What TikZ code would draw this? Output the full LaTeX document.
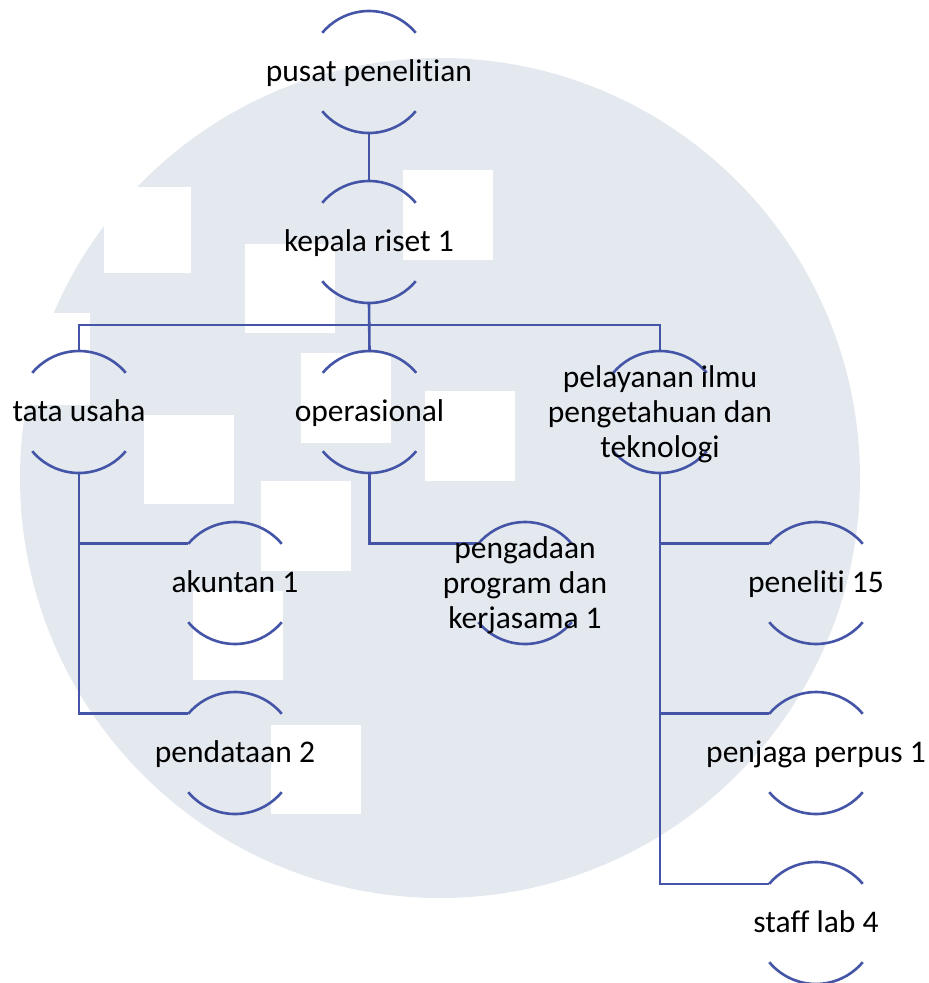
\documentclass[tikz,border=0pt]{standalone}
\usepackage{fontspec}
\setmainfont{Carlito}[RawFeature={-liga;-clig}]
\definecolor{bgc}{RGB}{228,233,240}
\definecolor{lblue}{RGB}{68,84,166}
\tikzset{
  conn/.style={draw=lblue, line width=2.6pt},
  hub/.style={circle, minimum size=122pt, inner sep=0pt, outer sep=0pt, draw=none},
  lbl/.style={font=\fontsize{31.5}{35}\selectfont, inner sep=0pt, align=center, text=black},
}
\begin{document}
\begin{tikzpicture}[x=1pt,y=1pt]
\useasboundingbox (0,0) rectangle (929,-983);
% watermark background
\fill[bgc] (440,-478) circle[radius=420];
\foreach \x/\y/\w/\h in {104/187/87/86, 403/170/90/90, 245/244/90/89, 0/313/90/92, 301/353/90/90, 425/391/90/90, 144/415/90/89, 261/481/90/90, 193/591/90/89, 271/725/90/89}
  \fill[white] (\x,-\y) rectangle ++(\w,-\h);
% hubs (bracket circles)
\foreach \n/\x/\y in {pusat/369/72, kepala/369/242, tata/79/412, ops/369.5/412, pel/660/412, akun/235/583, peng/525/583, pend/235/753, pen/816/583, penj/816/753, staff/816/923}
  \node[hub] (\n) at (\x,-\y) {};
% connectors
\draw[conn] (pusat.south) -- (kepala.north);
\draw[conn] (kepala.south) -- (ops.north);
\draw[conn, line join=miter] (tata.north) -- ++(0,26) -| (pel.north);
\draw[conn, line join=miter] (tata.south) |- (akun.140);
\draw[conn, line join=miter] (tata.south) |- (pend.140);
\draw[conn, line join=miter] (ops.south) |- (peng.140);
\draw[conn, line join=miter] (pel.south) |- (pen.140);
\draw[conn, line join=miter] (pel.south) |- (penj.140);
\draw[conn, line join=miter] (pel.south) |- (staff.140);
% arcs
\foreach \n in {pusat, kepala, tata, ops, pel, akun, peng, pend, pen, penj, staff} {
  \draw[conn] (\n.40) arc[start angle=40, end angle=140, radius=61pt];
  \draw[conn] (\n.220) arc[start angle=220, end angle=320, radius=61pt];
}
% labels
\node[lbl, anchor=base] (pusat-l) at ([yshift=-9.5pt]pusat.center) {pusat penelitian};
\node[lbl, anchor=base] (kepala-l) at ([yshift=-9.5pt]kepala.center) {kepala riset 1};
\node[lbl, anchor=base] (tata-l) at ([yshift=-9.5pt]tata.center) {tata usaha};
\node[lbl, anchor=base] (ops-l) at ([yshift=-9.5pt]ops.center) {operasional};
\node[lbl] (pel-l) at ([yshift=-2.5pt]pel.center) {pelayanan ilmu\\pengetahuan dan\\teknologi};
\node[lbl, anchor=base] (akun-l) at ([yshift=-9.5pt]akun.center) {akuntan 1};
\node[lbl] (peng-l) at ([yshift=-2.5pt]peng.center) {pengadaan\\program dan\\kerjasama 1};
\node[lbl, anchor=base] (pend-l) at ([yshift=-9.5pt]pend.center) {pendataan 2};
\node[lbl, anchor=base] (pen-l) at ([yshift=-9.5pt]pen.center) {peneliti 15};
\node[lbl, anchor=base] (penj-l) at ([yshift=-9.5pt]penj.center) {penjaga perpus 1};
\node[lbl, anchor=base] (staff-l) at ([yshift=-9.5pt]staff.center) {staff lab 4};
\end{tikzpicture}
\end{document}
